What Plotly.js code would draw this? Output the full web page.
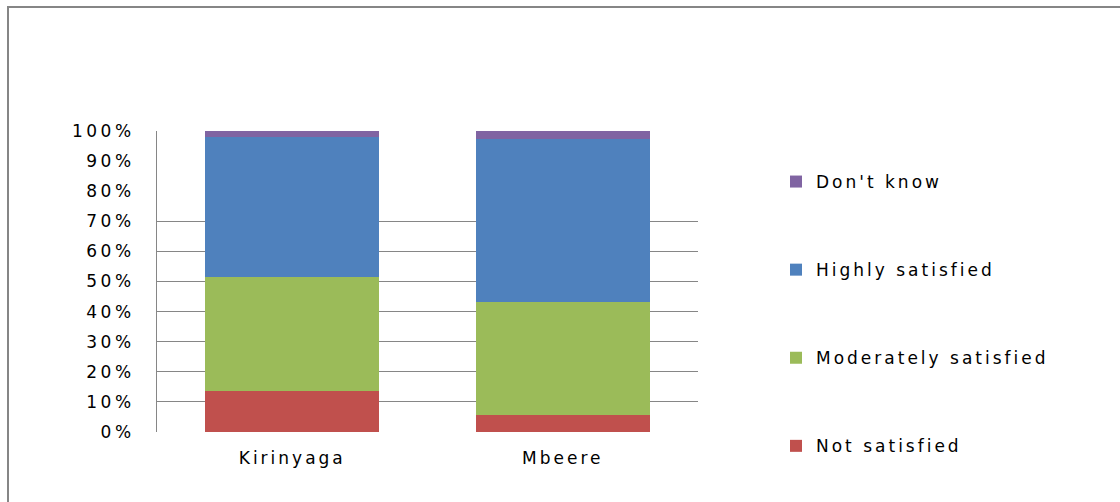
<!DOCTYPE html>
<html>
<head>
<meta charset="utf-8">
<script src="https://cdn.plot.ly/plotly-3.0.1.min.js"></script>
<style>
  html, body { margin: 0; padding: 0; background: #fff; }
  #chart { width: 1120px; height: 502px; }
  /* wide, airy lettering for all labels */
  .legendtext { letter-spacing: 3px; }
  .xtick text { letter-spacing: 3px; }
  .ytick text { letter-spacing: 3.5px; }
</style>
</head>
<body>
<div id="chart"></div>
<script>
// Satisfaction by district (percent of respondents)
const categories = ['Kirinyaga', 'Mbeere'];
const notSatisfied = [13.5, 5.5];
const moderatelySatisfied = [37.9, 37.6];
const highlySatisfied = [46.6, 54.2];
const dontKnow = [2.0, 2.7];
const gridTicks = [10, 20, 30, 40, 50, 60, 70];

const seriesNames = ['Not satisfied', 'Moderately satisfied', 'Highly satisfied', "Don't know"];
const seriesValues = [notSatisfied, moderatelySatisfied, highlySatisfied, dontKnow];
const seriesColors = ['#C0504D', '#9BBB59', '#4F81BD', '#8064A2'];

const traces = seriesNames.map((name, i) => ({
  type: 'bar',
  name: name,
  x: categories,
  y: seriesValues[i],
  legendgroup: 'g' + i,
  legendrank: 1000 - i,
  marker: { color: seriesColors[i], line: { width: 0 } },
  hoverinfo: 'x+y+name'
}));

// invisible carrier for the partial grid on an overlaid axis
traces.push({
  type: 'scatter', x: categories, y: [0, 0], yaxis: 'y2',
  mode: 'none', showlegend: false, hoverinfo: 'skip'
});

const W = 1120, H = 502;
const L = 157, R = 422, T = 131, B = 70;
const pw = W - L - R, ph = H - T - B;
const px = v => (v - L) / pw;
const py = v => (H - B - v) / ph;

const layout = {
  width: W, height: H,
  margin: { l: L, r: R, t: T, b: B, pad: 0 },
  paper_bgcolor: '#ffffff',
  plot_bgcolor: '#ffffff',
  barmode: 'stack',
  bargap: 0.357,
  font: { family: 'DejaVu Sans, sans-serif', size: 16, color: '#000000' },
  xaxis: {
    showline: false, showgrid: false, zeroline: false, ticks: '',
    tickfont: { size: 17 }, ticklabelstandoff: 14
  },
  yaxis: {
    range: [0, 100], dtick: 10, ticksuffix: '%',
    showgrid: false, zeroline: false,
    showline: true, linecolor: '#868686', linewidth: 1,
    ticks: '', tickfont: { size: 17 }, ticklabelstandoff: 18
  },
  yaxis2: {
    overlaying: 'y', range: [0, 100], tickvals: gridTicks,
    showticklabels: false, showgrid: true, gridcolor: '#868686', gridwidth: 1,
    zeroline: false, showline: false, ticks: ''
  },
  legend: {
    x: px(776), xanchor: 'left',
    y: py(164), yanchor: 'top',
    traceorder: 'grouped',
    tracegroupgap: 63,
    font: { size: 17, color: '#000000' },
    bgcolor: 'rgba(0,0,0,0)', borderwidth: 0
  },
  shapes: [
    { type: 'line', xref: 'paper', yref: 'paper',
      x0: px(8), x1: px(8), y0: py(7), y1: py(H + 5),
      line: { color: '#868686', width: 2 } },
    { type: 'line', xref: 'paper', yref: 'paper',
      x0: px(7), x1: px(W + 5), y0: py(7), y1: py(7),
      line: { color: '#868686', width: 2 } }
  ],
  showlegend: true
};

Plotly.newPlot('chart', traces, layout, { displayModeBar: false, staticPlot: true });
</script>
</body>
</html>
